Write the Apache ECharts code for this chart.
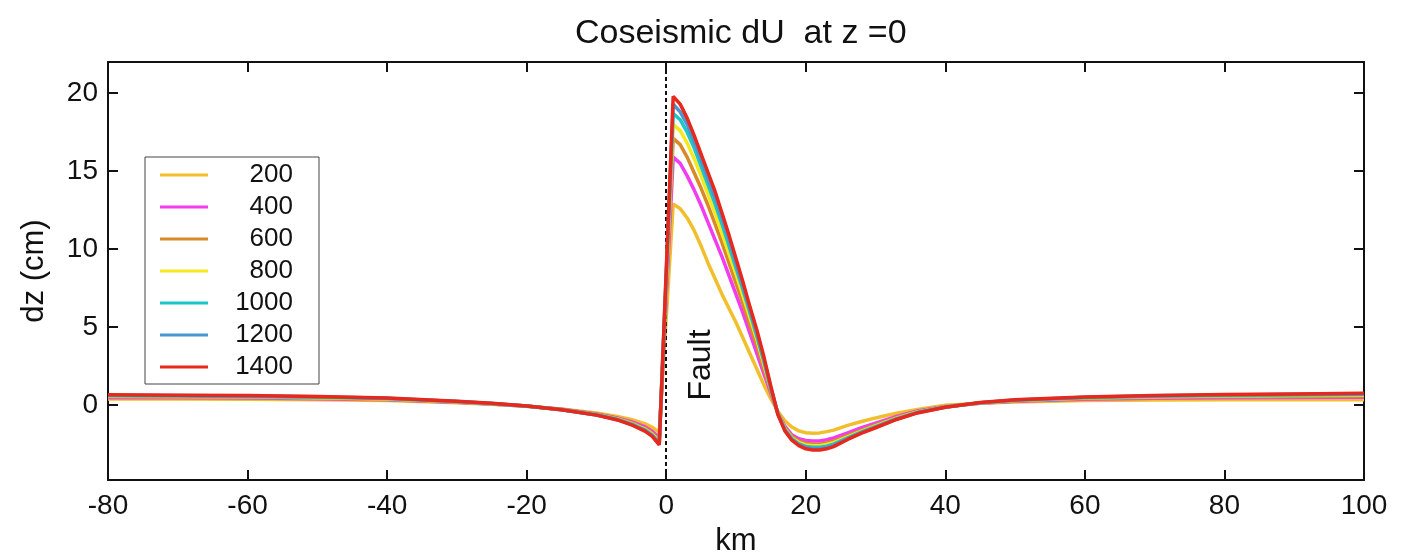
<!DOCTYPE html>
<html>
<head>
<meta charset="utf-8">
<script src="https://cdn.jsdelivr.net/npm/echarts@6/dist/echarts.min.js"></script>
<style>
  html, body { margin: 0; padding: 0; background: #ffffff; }
  #chart { width: 1417px; height: 556px; }
</style>
</head>
<body>
<div id="chart"></div>
<script>
// ---- data ----
const titleText = 'Coseismic dU  at z =0';
const seriesNames = ['200', '400', '600', '800', '1000', '1200', '1400'];
const seriesColors = ['#f2bf2c', '#f23cf0', '#d98a28', '#f5e81c', '#1fc6c6', '#4a96d2', '#e8281c'];
const xKm = [-80, -70, -60, -50, -40, -30, -25, -20, -15, -10, -7, -5, -3, -2, -1,
  1, 2, 3, 4, 5, 6, 7, 8, 9, 10, 11, 12, 13, 14, 15, 16, 17, 18, 19, 20, 21, 22, 23, 24,
  26, 28, 30, 33, 36, 40, 45, 50, 60, 70, 80, 90, 100];
const dz200 = [0.40, 0.40, 0.38, 0.35, 0.30, 0.15, 0.06, -0.07, -0.25, -0.50, -0.72, -0.92, -1.20, -1.42, -1.75,
  12.9, 12.6, 12.0, 11.2, 10.2, 9.1, 8.1, 7.1, 6.2, 5.3, 4.3, 3.3, 2.3, 1.3, 0.4, -0.4, -1.0, -1.4, -1.65, -1.77, -1.8, -1.78, -1.7, -1.6,
  -1.3, -1.05, -0.82, -0.52, -0.28, 0.0, 0.12, 0.2, 0.3, 0.33, 0.35, 0.35, 0.35];
const dz400 = [0.48, 0.47, 0.45, 0.41, 0.34, 0.18, 0.07, -0.07, -0.27, -0.56, -0.82, -1.06, -1.40, -1.68, -2.10,
  15.9, 15.5, 14.7, 13.8, 12.8, 11.7, 10.6, 9.5, 8.3, 7.1, 5.9, 4.6, 3.3, 2.0, 0.75, -0.5, -1.35, -1.9, -2.15, -2.27, -2.3, -2.3, -2.22, -2.1,
  -1.78, -1.45, -1.15, -0.72, -0.38, -0.08, 0.12, 0.25, 0.38, 0.44, 0.47, 0.49, 0.5];
const dz600 = [0.53, 0.52, 0.50, 0.45, 0.37, 0.20, 0.08, -0.06, -0.28, -0.59, -0.86, -1.13, -1.50, -1.80, -2.25,
  17.1, 16.7, 15.9, 14.9, 13.9, 12.8, 11.6, 10.4, 9.1, 7.8, 6.5, 5.1, 3.8, 2.3, 0.9, -0.5, -1.45, -2.0, -2.3, -2.45, -2.5, -2.5, -2.42, -2.3,
  -1.95, -1.6, -1.27, -0.8, -0.42, -0.1, 0.13, 0.28, 0.43, 0.5, 0.54, 0.56, 0.58];
const dz800 = [0.57, 0.56, 0.53, 0.48, 0.40, 0.21, 0.09, -0.06, -0.29, -0.61, -0.89, -1.17, -1.56, -1.87, -2.35,
  18.0, 17.6, 16.8, 15.8, 14.7, 13.5, 12.3, 11.0, 9.7, 8.4, 7.0, 5.6, 4.2, 2.6, 1.0, -0.5, -1.5, -2.1, -2.4, -2.55, -2.6, -2.6, -2.52, -2.4,
  -2.03, -1.67, -1.33, -0.84, -0.44, -0.11, 0.14, 0.3, 0.46, 0.54, 0.58, 0.61, 0.63];
const dz1000 = [0.60, 0.59, 0.56, 0.51, 0.42, 0.23, 0.10, -0.05, -0.29, -0.62, -0.91, -1.20, -1.60, -1.92, -2.42,
  18.7, 18.3, 17.5, 16.5, 15.3, 14.1, 12.9, 11.6, 10.2, 8.8, 7.4, 5.9, 4.4, 2.8, 1.05, -0.55, -1.55, -2.15, -2.48, -2.65, -2.7, -2.7, -2.63, -2.5,
  -2.1, -1.72, -1.38, -0.87, -0.46, -0.12, 0.15, 0.32, 0.48, 0.57, 0.62, 0.65, 0.68];
const dz1200 = [0.63, 0.62, 0.59, 0.53, 0.44, 0.24, 0.11, -0.05, -0.30, -0.63, -0.93, -1.23, -1.64, -1.96, -2.50,
  19.3, 18.8, 18.0, 16.9, 15.7, 14.5, 13.3, 12.0, 10.6, 9.1, 7.6, 6.1, 4.6, 2.95, 1.1, -0.55, -1.6, -2.2, -2.52, -2.72, -2.8, -2.8, -2.72, -2.58,
  -2.16, -1.77, -1.42, -0.9, -0.48, -0.13, 0.16, 0.33, 0.5, 0.6, 0.65, 0.69, 0.72];
const dz1400 = [0.66, 0.64, 0.61, 0.55, 0.46, 0.25, 0.12, -0.05, -0.30, -0.64, -0.95, -1.26, -1.68, -2.00, -2.55,
  19.8, 19.3, 18.4, 17.3, 16.1, 14.9, 13.7, 12.3, 10.9, 9.4, 7.9, 6.3, 4.8, 3.1, 1.2, -0.6, -1.65, -2.25, -2.6, -2.8, -2.88, -2.88, -2.8, -2.66,
  -2.2, -1.8, -1.45, -0.92, -0.5, -0.14, 0.17, 0.35, 0.52, 0.62, 0.68, 0.72, 0.76];
const allDz = [dz200, dz400, dz600, dz800, dz1000, dz1200, dz1400];
const xTickMin = -80, xTickMax = 100, xTickStep = 20;
const yMin = -4.8, yMax = 22;
const faultX = 0;
const faultLabel = 'Fault';
const xName = 'km', yName = 'dz (cm)';

// ---- chart ----
const FONT = "'Liberation Sans', Arial, sans-serif";
const chart = echarts.init(document.getElementById('chart'), null, { renderer: 'canvas' });

const series = seriesNames.map((name, i) => ({
  name: name,
  type: 'line',
  xAxisIndex: 0,
  yAxisIndex: 0,
  showSymbol: false,
  symbol: 'none',
  smooth: false,
  lineStyle: { width: 3.5, color: seriesColors[i] },
  itemStyle: { color: seriesColors[i] },
  z: 2 + i,
  data: xKm.map((x, k) => [x, allDz[i][k]])
}));
series.push({
  name: '__fault',
  type: 'line',
  data: [],
  z: 20,
  markLine: {
    silent: true,
    symbol: ['none', 'none'],
    label: { show: false },
    lineStyle: { color: '#111', width: 2, type: [4, 3] },
    data: [{ xAxis: faultX }]
  }
});

const axisCommon = {
  axisLine: { show: true, onZero: false, lineStyle: { color: '#111', width: 2 } },
  axisTick: { show: true, inside: true, length: 10, lineStyle: { color: '#111', width: 2 } },
  splitLine: { show: false }
};

chart.setOption({
  animation: false,
  backgroundColor: '#ffffff',
  title: {
    text: titleText,
    left: 570,
    top: 12,
    textStyle: { fontFamily: FONT, fontSize: 34, fontWeight: 'normal', color: '#111' }
  },
  grid: { left: 108, right: 53, top: 62, bottom: 76, containLabel: false, outerBoundsMode: 'none' },
  legend: {
    orient: 'vertical',
    left: 145,
    top: 157,
    data: seriesNames,
    itemWidth: 48,
    itemHeight: 12,
    itemGap: 6,
    padding: [5, 26, 4, 15],
    borderColor: '#444',
    borderWidth: 1,
    backgroundColor: '#fff',
    icon: 'path://M0,0 L48,0 L48,3 L0,3 Z',
    formatter: function (n) { return '{a|' + n + '}'; },
    textStyle: {
      fontFamily: FONT, fontSize: 26, color: '#111', lineHeight: 26,
      rich: { a: { fontFamily: FONT, fontSize: 26, width: 80, align: 'right', color: '#111', lineHeight: 26 } }
    }
  },
  xAxis: [
    Object.assign({}, axisCommon, {
      type: 'value', min: xTickMin, max: xTickMax, interval: xTickStep, position: 'bottom',
      name: xName, nameLocation: 'middle', nameGap: 46,
      nameTextStyle: { fontFamily: FONT, fontSize: 31, color: '#111' },
      axisLabel: { show: true, margin: 12, fontFamily: FONT, fontSize: 28, color: '#111' }
    }),
    Object.assign({}, axisCommon, {
      type: 'value', min: xTickMin, max: xTickMax, interval: xTickStep, position: 'top',
      axisLabel: { show: false }
    })
  ],
  yAxis: [
    Object.assign({}, axisCommon, {
      type: 'value', min: yMin, max: yMax, splitNumber: 5, position: 'left',
      name: yName, nameLocation: 'middle', nameGap: 58, nameRotate: 90,
      nameTextStyle: { fontFamily: FONT, fontSize: 31, color: '#111' },
      axisLabel: {
        show: true, margin: 10, fontFamily: FONT, fontSize: 28, color: '#111',
        formatter: function (v) { return Math.abs(v % 5) < 1e-6 ? String(v) : ''; }
      }
    }),
    Object.assign({}, axisCommon, {
      type: 'value', min: yMin, max: yMax, splitNumber: 5, position: 'right',
      axisLabel: { show: false }
    })
  ],
  graphic: [{
    type: 'text',
    x: 701, y: 365,
    rotation: Math.PI / 2,
    style: {
      text: faultLabel,
      fontFamily: FONT, fontSize: 32, fill: '#111',
      textAlign: 'center', textVerticalAlign: 'middle'
    },
    z: 30
  }],
  series: series
});
</script>
</body>
</html>
